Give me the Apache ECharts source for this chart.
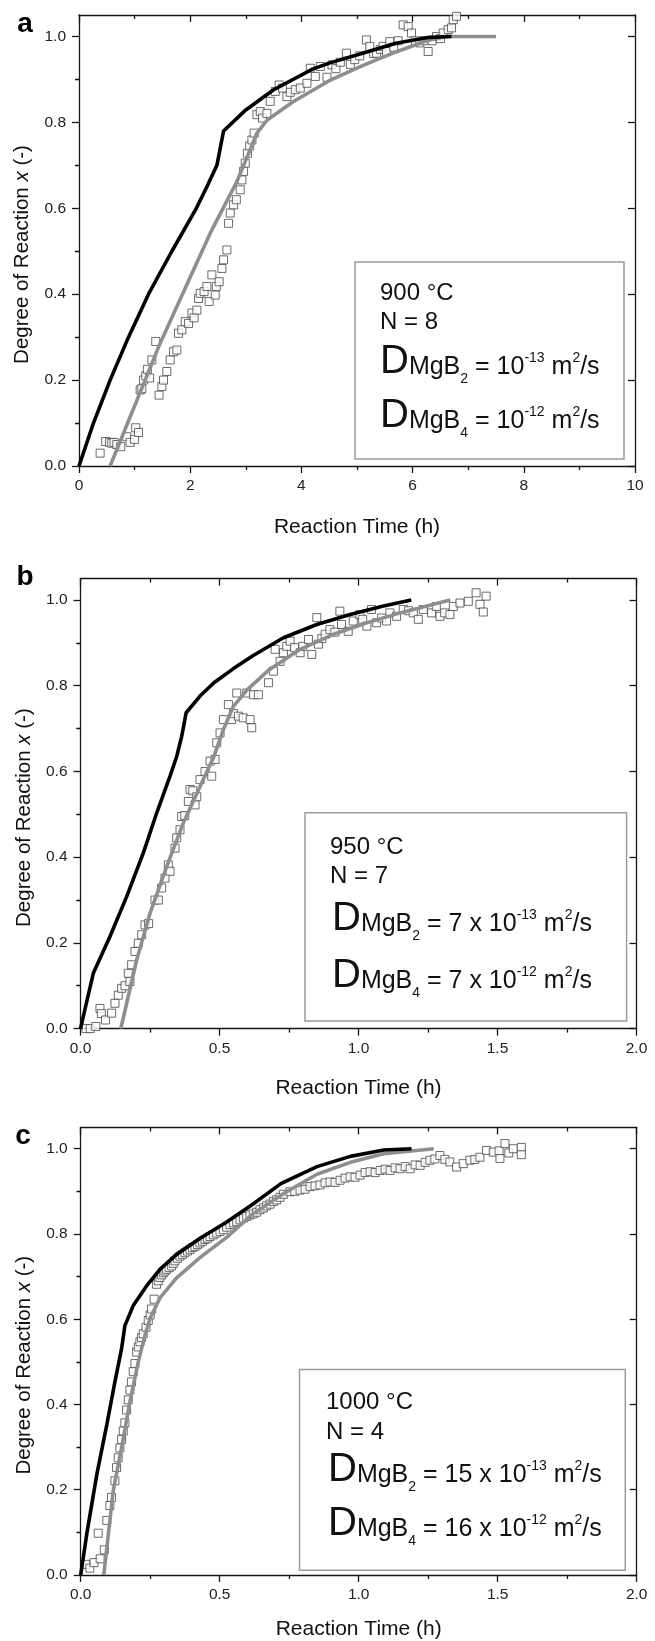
<!DOCTYPE html>
<html>
<head>
<meta charset="utf-8">
<script src="https://cdn.jsdelivr.net/npm/echarts@6/dist/echarts.min.js"></script>
<style>
  html, body { margin: 0; padding: 0; background: #fff; }
  #chart { width: 655px; height: 1641px; }
</style>
</head>
<body>
<div id="chart"></div>
<script>
// ---- values: degree of reaction x vs reaction time (h) ----
const letters = ['a', 'b', 'c'];
const temps = ['900 °C', '950 °C', '1000 °C'];
const nValues = ['N = 8', 'N = 7', 'N = 4'];
const preMgB2 = ['10', '7 x 10', '15 x 10'];
const preMgB4 = ['10', '7 x 10', '16 x 10'];
const expMgB2 = '-13';
const expMgB4 = '-12';

const yTicks = [0, 0.2, 0.4, 0.6, 0.8, 1.0];
const yMinorTicks = [0.1, 0.3, 0.5, 0.7, 0.9];

// panel a, 900 °C
const expA = [[0.38,0.03],[0.48,0.057],[0.55,0.055],[0.59,0.053],[0.63,0.055],[0.68,0.05],[0.75,0.045],
  [0.86,0.068],[0.92,0.055],[1.0,0.062],[1.02,0.089],[1.07,0.078],[1.1,0.177],[1.13,0.18],[1.16,0.2],
  [1.2,0.21],[1.23,0.225],[1.27,0.205],[1.31,0.247],[1.38,0.29],[1.44,0.165],[1.49,0.185],[1.52,0.2],
  [1.58,0.22],[1.64,0.247],[1.7,0.266],[1.76,0.27],[1.79,0.309],[1.85,0.317],[1.91,0.336],[1.97,0.332],
  [2.03,0.356],[2.07,0.345],[2.12,0.363],[2.15,0.39],[2.18,0.402],[2.25,0.406],[2.3,0.418],[2.34,0.383],
  [2.39,0.445],[2.45,0.398],[2.47,0.418],[2.52,0.429],[2.57,0.46],[2.6,0.48],[2.66,0.503],[2.69,0.565],
  [2.72,0.589],[2.78,0.608],[2.83,0.62],[2.9,0.643],[2.93,0.666],[2.96,0.686],[2.99,0.705],[3.03,0.728],
  [3.07,0.745],[3.11,0.759],[3.15,0.775],[3.2,0.818],[3.26,0.825],[3.3,0.81],[3.38,0.821],[3.44,0.849],
  [3.53,0.872],[3.6,0.887],[3.66,0.88],[3.74,0.86],[3.8,0.87],[3.89,0.876],[3.98,0.88],[4.1,0.891],
  [4.16,0.926],[4.25,0.907],[4.34,0.93],[4.46,0.905],[4.55,0.934],[4.62,0.925],[4.7,0.94],[4.81,0.961],
  [4.88,0.935],[4.96,0.946],[5.05,0.955],[5.17,0.992],[5.23,0.977],[5.3,0.96],[5.35,0.961],[5.42,0.97],
  [5.47,0.977],[5.53,0.965],[5.59,0.988],[5.66,0.975],[5.74,0.99],[5.83,1.027],[5.92,1.023],[5.98,1.008],
  [6.05,0.99],[6.13,0.985],[6.2,0.99],[6.28,0.965],[6.35,0.99],[6.43,1.0],[6.5,0.995],[6.55,1.008],
  [6.64,1.016],[6.7,1.02],[6.73,1.039],[6.79,1.047]];
const blackA = [[0,0],[0.26,0.1],[0.56,0.2],[0.89,0.3],[1.25,0.4],[1.67,0.5],[2.11,0.6],[2.3,0.65],
  [2.48,0.7],[2.6,0.78],[3.0,0.829],[3.5,0.876],[4.2,0.924],[4.5,0.938],[5.1,0.961],[5.7,0.984],
  [6.3,0.998],[6.7,1.0]];
const grayA = [[0.56,0],[1.46,0.286],[2.36,0.542],[2.84,0.662],[3.2,0.775],[3.38,0.805],[3.85,0.848],
  [4.5,0.897],[5.1,0.932],[5.7,0.964],[6.25,0.99],[6.6,1.0],[7.5,1.0]];

// panel b, 950 °C
const expB = [[0.02,0.0],[0.035,0.0],[0.055,0.005],[0.07,0.047],[0.075,0.035],[0.09,0.02],[0.112,0.036],
  [0.124,0.059],[0.136,0.078],[0.148,0.094],[0.16,0.1],[0.172,0.129],[0.178,0.11],[0.184,0.149],[0.196,0.18],
  [0.208,0.199],[0.22,0.219],[0.232,0.242],[0.245,0.245],[0.268,0.3],[0.28,0.3],[0.292,0.328],[0.304,0.351],
  [0.316,0.382],[0.322,0.367],[0.34,0.421],[0.346,0.445],[0.358,0.464],[0.364,0.495],[0.375,0.497],
  [0.388,0.53],[0.394,0.558],[0.404,0.555],[0.412,0.522],[0.418,0.541],[0.43,0.581],[0.448,0.6],
  [0.466,0.624],[0.472,0.589],[0.484,0.628],[0.49,0.667],[0.502,0.69],[0.514,0.721],[0.532,0.756],
  [0.544,0.721],[0.55,0.735],[0.562,0.783],[0.568,0.729],[0.585,0.725],[0.598,0.783],[0.61,0.721],
  [0.616,0.702],[0.622,0.779],[0.64,0.779],[0.676,0.807],[0.694,0.834],[0.7,0.885],[0.718,0.857],
  [0.73,0.877],[0.742,0.892],[0.754,0.904],[0.77,0.889],[0.79,0.877],[0.8,0.892],[0.82,0.908],
  [0.832,0.873],[0.85,0.959],[0.856,0.897],[0.868,0.91],[0.88,0.92],[0.897,0.931],[0.915,0.925],
  [0.933,0.974],[0.939,0.943],[0.963,0.927],[0.981,0.951],[1.005,0.966],[1.015,0.955],[1.03,0.939],
  [1.047,0.978],[1.065,0.947],[1.083,0.958],[1.101,0.951],[1.113,0.97],[1.137,0.962],[1.161,0.978],
  [1.18,0.975],[1.197,0.97],[1.215,0.955],[1.233,0.978],[1.263,0.97],[1.28,0.985],[1.293,0.962],
  [1.31,0.97],[1.329,0.966],[1.341,0.985],[1.365,0.993],[1.395,0.997],[1.423,1.017],[1.437,0.99],
  [1.449,0.972],[1.459,1.009]];
const blackB = [[0,0],[0.046,0.129],[0.106,0.215],[0.166,0.308],[0.226,0.41],[0.274,0.503],[0.322,0.589],
  [0.346,0.635],[0.364,0.682],[0.38,0.737],[0.43,0.776],[0.48,0.807],[0.55,0.84],[0.62,0.87],[0.73,0.912],
  [0.85,0.943],[0.97,0.966],[1.09,0.986],[1.19,1.0]];
const grayB = [[0.145,0],[0.202,0.16],[0.25,0.269],[0.31,0.378],[0.37,0.48],[0.43,0.565],[0.48,0.635],
  [0.514,0.698],[0.55,0.752],[0.6,0.791],[0.68,0.838],[0.79,0.885],[0.91,0.92],[1.03,0.947],[1.15,0.97],
  [1.27,0.99],[1.33,1.0]];

// panel c, 1000 °C
const expC = [[0.018,0.025],[0.033,0.016],[0.048,0.029],[0.063,0.098],[0.07,0.038],[0.085,0.059],
  [0.094,0.128],[0.105,0.163],[0.111,0.182],[0.123,0.221],[0.129,0.252],[0.135,0.275],[0.141,0.298],
  [0.147,0.318],[0.153,0.338],[0.159,0.357],[0.165,0.387],[0.171,0.411],[0.177,0.434],[0.183,0.453],
  [0.189,0.477],[0.195,0.496],[0.201,0.523],[0.207,0.535],[0.213,0.547],[0.219,0.557],[0.225,0.566],
  [0.235,0.581],[0.243,0.597],[0.25,0.61],[0.255,0.624],[0.264,0.647],[0.273,0.682],[0.279,0.69],
  [0.285,0.698],[0.291,0.704],[0.297,0.709],[0.303,0.713],[0.309,0.717],[0.318,0.721],[0.327,0.725],
  [0.333,0.731],[0.339,0.737],[0.348,0.743],[0.357,0.748],[0.366,0.752],[0.375,0.756],[0.384,0.76],
  [0.393,0.764],[0.402,0.768],[0.411,0.771],[0.42,0.775],[0.429,0.779],[0.438,0.783],[0.447,0.787],
  [0.456,0.79],[0.465,0.794],[0.477,0.798],[0.489,0.802],[0.501,0.806],[0.513,0.81],[0.525,0.816],
  [0.537,0.822],[0.549,0.826],[0.561,0.829],[0.573,0.833],[0.585,0.837],[0.597,0.841],[0.609,0.845],
  [0.621,0.847],[0.633,0.851],[0.645,0.857],[0.657,0.861],[0.669,0.866],[0.681,0.87],[0.693,0.876],
  [0.705,0.88],[0.717,0.886],[0.729,0.893],[0.753,0.899],[0.77,0.9],[0.789,0.903],[0.807,0.905],
  [0.825,0.911],[0.843,0.913],[0.861,0.915],[0.879,0.92],[0.897,0.922],[0.915,0.921],[0.933,0.926],
  [0.951,0.931],[0.969,0.934],[0.987,0.933],[1.005,0.938],[1.023,0.944],[1.041,0.946],[1.059,0.944],
  [1.077,0.949],[1.095,0.952],[1.113,0.949],[1.131,0.955],[1.149,0.953],[1.167,0.958],[1.185,0.953],
  [1.203,0.962],[1.221,0.961],[1.239,0.968],[1.256,0.973],[1.274,0.976],[1.292,0.984],[1.31,0.975],
  [1.328,0.969],[1.352,0.957],[1.376,0.965],[1.4,0.973],[1.418,0.975],[1.436,0.98],[1.46,0.996],
  [1.484,0.992],[1.505,0.995],[1.508,0.977],[1.526,1.012],[1.54,0.99],[1.556,1.0],[1.585,1.003],
  [1.585,0.986]];
const blackC = [[0,0],[0.022,0.097],[0.058,0.236],[0.094,0.353],[0.123,0.453],[0.147,0.531],[0.159,0.585],
  [0.189,0.632],[0.237,0.678],[0.285,0.717],[0.345,0.752],[0.43,0.79],[0.525,0.828],[0.615,0.868],
  [0.72,0.918],[0.85,0.958],[0.97,0.982],[1.09,0.997],[1.19,1.0]];
const grayC = [[0.083,0],[0.117,0.198],[0.147,0.298],[0.177,0.407],[0.207,0.5],[0.231,0.562],[0.249,0.601],
  [0.285,0.65],[0.345,0.697],[0.43,0.745],[0.525,0.792],[0.615,0.845],[0.73,0.895],[0.85,0.94],
  [0.97,0.968],[1.09,0.988],[1.27,1.0]];

const FONT = "'Liberation Sans', Arial, Helvetica, sans-serif";
const INK = '#151515';

const panels = [
  { exp: expA, black: blackA, gray: grayA, xMax: 10, xStep: 2, xDec: 0,
    grid: { left: 79, top: 15, width: 556, height: 451 }, nameGap: 51, letterAt: [25, 24],
    box: [355, 262, 269, 197], headX: 380, headY: [293.4, 322.7], dX: 380, dBase: [376, 430] },
  { exp: expB, black: blackB, gray: grayB, xMax: 2, xStep: 0.5, xDec: 1,
    grid: { left: 80.5, top: 578.6, width: 556, height: 450 }, nameGap: 49, letterAt: [25, 577],
    box: [305, 812.7, 321.6, 208.3], headX: 330, headY: [847, 876.4], dX: 332, dBase: [933, 990] },
  { exp: expC, black: blackC, gray: grayC, xMax: 2, xStep: 0.5, xDec: 1,
    grid: { left: 80.7, top: 1127.4, width: 556, height: 451 }, nameGap: 44, letterAt: [23, 1136],
    box: [299.5, 1369.4, 325.8, 200.8], headX: 326, headY: [1402.7, 1432.4], dX: 328, dBase: [1484, 1538] }
];

const lineStyle = { color: INK, width: 1.3 };
const tickStyle = { color: INK, width: 1.3 };

// measure text so the D-line pieces (big D, subscripts, superscripts) can sit side by side
const ctx = document.createElement('canvas').getContext('2d');
const textW = (t, size) => { ctx.font = size + 'px ' + FONT; return ctx.measureText(t).width; };
const MID = 0.3465; // distance from canvas 'middle' to the alphabetic baseline, in em

function dLinePieces(sub, pre, exp) {
  return [
    { t: 'D', f: 40, dy: 0 },
    { t: 'MgB', f: 25, dy: 0 },
    { t: sub, f: 14, dy: 8 },
    { t: ' = ' + pre, f: 25, dy: 0 },
    { t: exp, f: 14, dy: -13 },
    { t: ' m', f: 25, dy: 0 },
    { t: '2', f: 14, dy: -13 },
    { t: '/s', f: 25, dy: 0 }
  ];
}

const grids = [], xAxes = [], yAxes = [], series = [], graphics = [];

panels.forEach((p, i) => {
  grids.push(Object.assign({ containLabel: false }, p.grid));

  // bottom axis with labels, top mirror
  xAxes.push({
    type: 'value', gridIndex: i, position: 'bottom', min: 0, max: p.xMax, interval: p.xStep,
    name: 'Reaction Time (h)', nameLocation: 'middle', nameGap: p.nameGap,
    nameTextStyle: { fontFamily: FONT, fontSize: 21, color: '#111' },
    axisLine: { show: true, onZero: false, lineStyle },
    axisTick: { show: true, inside: false, length: 7, lineStyle: tickStyle },
    minorTick: { show: true, splitNumber: 2, length: 4, lineStyle: tickStyle },
    axisLabel: { fontFamily: FONT, fontSize: 15.5, color: '#222', margin: 12,
      formatter: v => v.toFixed(p.xDec) },
    splitLine: { show: false }
  });
  xAxes.push({
    type: 'value', gridIndex: i, position: 'top', min: 0, max: p.xMax, interval: p.xStep,
    axisLine: { show: true, onZero: false, lineStyle },
    axisTick: { show: true, inside: true, length: 7, lineStyle: tickStyle },
    minorTick: { show: true, splitNumber: 2, length: 4, lineStyle: tickStyle },
    axisLabel: { show: false }, splitLine: { show: false }
  });

  // left axis (major + minor), right mirror (major + minor)
  yAxes.push({
    type: 'value', gridIndex: i, position: 'left', min: 0, max: 1.05,
    name: '{n|Degree of Reaction }{i|x}{n| (-)}', nameLocation: 'middle', nameGap: 46,
    nameTextStyle: {
      padding: [0, 28, 0, 0],
      rich: {
        n: { fontFamily: FONT, fontSize: 20.5, color: '#111' },
        i: { fontFamily: FONT, fontSize: 20.5, color: '#111', fontStyle: 'italic' }
      }
    },
    axisLine: { show: true, onZero: false, lineStyle },
    axisTick: { show: true, inside: false, length: 7, lineStyle: tickStyle, customValues: yTicks },
    axisLabel: { fontFamily: FONT, fontSize: 15.5, color: '#222', margin: 13,
      customValues: yTicks, formatter: v => v.toFixed(1) },
    splitLine: { show: false }
  });
  yAxes.push({
    type: 'value', gridIndex: i, position: 'left', min: 0, max: 1.05,
    axisLine: { show: false },
    axisTick: { show: true, inside: false, length: 4, lineStyle: tickStyle, customValues: yMinorTicks },
    axisLabel: { show: false }, splitLine: { show: false }
  });
  yAxes.push({
    type: 'value', gridIndex: i, position: 'right', min: 0, max: 1.05,
    axisLine: { show: true, onZero: false, lineStyle },
    axisTick: { show: true, inside: true, length: 7, lineStyle: tickStyle, customValues: yTicks },
    axisLabel: { show: false }, splitLine: { show: false }
  });
  yAxes.push({
    type: 'value', gridIndex: i, position: 'right', min: 0, max: 1.05,
    axisLine: { show: false },
    axisTick: { show: true, inside: true, length: 4, lineStyle: tickStyle, customValues: yMinorTicks },
    axisLabel: { show: false }, splitLine: { show: false }
  });

  const xi = 2 * i, yi = 4 * i;
  series.push({
    type: 'scatter', xAxisIndex: xi, yAxisIndex: yi, data: p.exp,
    symbol: 'rect', symbolSize: 8, z: 2,
    itemStyle: { color: '#fff', borderColor: '#474747', borderWidth: 1 }
  });
  series.push({
    type: 'line', xAxisIndex: xi, yAxisIndex: yi, data: p.gray, showSymbol: false, z: 3,
    lineStyle: { color: '#8e8e8e', width: 3.6 }
  });
  series.push({
    type: 'line', xAxisIndex: xi, yAxisIndex: yi, data: p.black, showSymbol: false, z: 4,
    lineStyle: { color: '#000', width: 3.6 }
  });

  // panel letter
  graphics.push({
    type: 'text', x: p.letterAt[0], y: p.letterAt[1],
    style: { text: letters[i], fontFamily: FONT, fontSize: 28, fontWeight: 'bold', fill: '#000',
      align: 'center', verticalAlign: 'middle' }
  });
  // annotation box
  graphics.push({
    type: 'rect', shape: { x: p.box[0], y: p.box[1], width: p.box[2], height: p.box[3] },
    style: { fill: 'none', stroke: '#9c9c9c', lineWidth: 1.5 }
  });
  [temps[i], nValues[i]].forEach((t, k) => {
    graphics.push({
      type: 'text', x: p.headX, y: p.headY[k],
      style: { text: t, fontFamily: FONT, fontSize: 24, fill: '#111', align: 'left', verticalAlign: 'middle' }
    });
  });
  [dLinePieces('2', preMgB2[i], expMgB2), dLinePieces('4', preMgB4[i], expMgB4)].forEach((pieces, k) => {
    let cx = p.dX;
    pieces.forEach(pc => {
      graphics.push({
        type: 'text', x: cx, y: p.dBase[k] + pc.dy - MID * pc.f,
        style: { text: pc.t, fontFamily: FONT, fontSize: pc.f, fill: '#111', align: 'left', verticalAlign: 'middle' }
      });
      cx += textW(pc.t, pc.f);
    });
  });
});

const chart = echarts.init(document.getElementById('chart'), null, { renderer: 'canvas', width: 655, height: 1641 });
chart.setOption({
  backgroundColor: '#fff',
  animation: false,
  grid: grids,
  xAxis: xAxes,
  yAxis: yAxes,
  series: series,
  graphic: { elements: graphics }
});
</script>
</body>
</html>
